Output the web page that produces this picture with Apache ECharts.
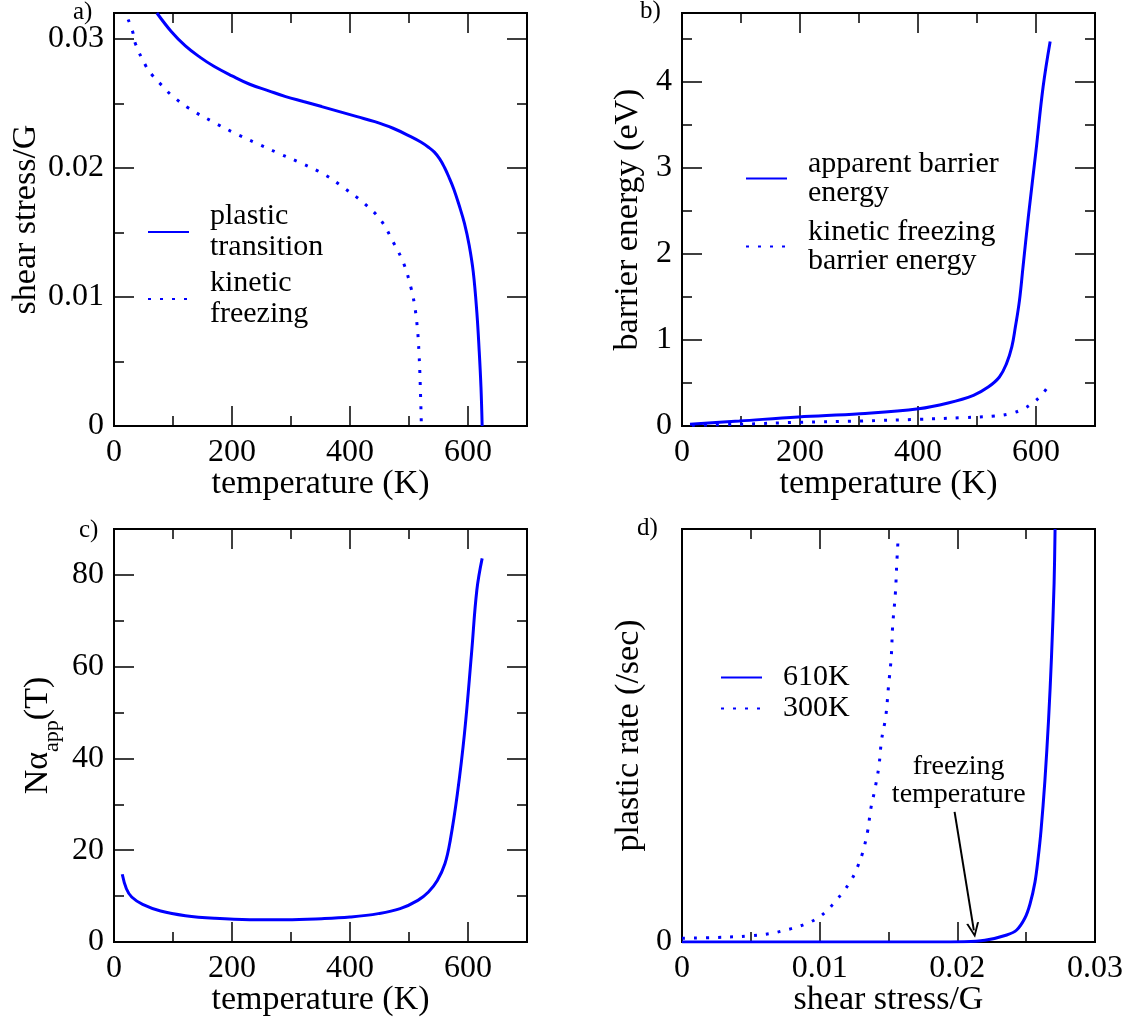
<!DOCTYPE html>
<html><head><meta charset="utf-8">
<script src="https://cdn.jsdelivr.net/npm/echarts@6/dist/echarts.min.js"></script>
<style>html,body{margin:0;padding:0;background:#fff}#c{width:1133px;height:1022px}</style>
</head><body><div id="c"></div>
<script>
// ---------- data ----------
// a) shear stress/G vs temperature
const aPlasticT = [72.7, 97, 121, 145.5, 170, 200, 230, 261, 291, 321, 352, 382, 412, 442, 473, 503, 520, 533, 543, 552, 560, 568, 576, 585, 594, 602, 609, 615, 619, 622, 624];
const aPlasticS = [0.0320, 0.03057, 0.02945, 0.02858, 0.02785, 0.02713, 0.02648, 0.02599, 0.02552, 0.02514, 0.02475, 0.02436, 0.02397, 0.02358, 0.02307, 0.02242, 0.02200, 0.02160, 0.02122, 0.02070, 0.02005, 0.01925, 0.01835, 0.0171, 0.0157, 0.0140, 0.0119, 0.0088, 0.0058, 0.0030, 0];
const aFreezeT = [24, 31.5, 36, 54.5, 66.7, 82, 97, 127, 167, 203, 242, 279, 318, 358, 391, 424, 452, 473, 491, 503, 509, 514, 517, 519, 521];
const aFreezeS = [0.0315, 0.03057, 0.02966, 0.02785, 0.02708, 0.02635, 0.02565, 0.02462, 0.02358, 0.02273, 0.0219, 0.02113, 0.02035, 0.01945, 0.01841, 0.01725, 0.01596, 0.01427, 0.01259, 0.01078, 0.00949, 0.00768, 0.00561, 0.00328, 0];
// b) barrier energy (eV) vs temperature
const bApparentT = [13.6, 97, 197, 302, 401, 451, 494, 519, 538, 550, 559, 565, 572, 578, 587, 600, 612, 624];
const bApparentE = [0.02, 0.058, 0.105, 0.143, 0.2, 0.267, 0.357, 0.453, 0.57, 0.725, 0.92, 1.15, 1.46, 1.85, 2.43, 3.2, 3.94, 4.47];
const bFreezeT = [17, 97, 197, 302, 401, 476, 531, 556, 576, 593, 609, 622];
const bFreezeE = [0.008, 0.02, 0.043, 0.058, 0.078, 0.097, 0.116, 0.143, 0.19, 0.26, 0.357, 0.473];
// c) N alpha_app(T) vs temperature
const cT = [14, 21, 30, 48.5, 79, 121, 170, 230, 291, 352, 400, 448, 485, 515, 533, 548, 561, 570, 582, 594, 606, 615, 624];
const cN = [14.75, 11.6, 9.8, 8.2, 6.76, 5.74, 5.16, 4.87, 4.87, 5.09, 5.45, 6.18, 7.27, 9.08, 10.9, 13.4, 17.1, 22.2, 32.3, 45.4, 62.9, 76.7, 83.6];
// d) plastic rate (relative units, top of frame = 1) vs shear stress/G
const d610S = [0, 0.01, 0.018, 0.0205, 0.0220, 0.02359, 0.02431, 0.02491, 0.02528, 0.02564, 0.02586, 0.02608, 0.02636, 0.02663, 0.02684, 0.02703, 0.0271];
const d610R = [0, 0, 0, 0.0005, 0.004, 0.017, 0.029, 0.058, 0.092, 0.145, 0.2, 0.27, 0.39, 0.54, 0.69, 0.87, 1.0];
const d300S = [0, 0.0025, 0.005, 0.0065, 0.0073, 0.0081, 0.009, 0.0098, 0.0105, 0.0111, 0.0117, 0.0123, 0.0127, 0.0131, 0.0135, 0.0137, 0.014, 0.0143, 0.0145, 0.0148, 0.015, 0.0152, 0.0153, 0.0155, 0.0156, 0.0157];
const d300R = [0.009, 0.011, 0.015, 0.021, 0.027, 0.034, 0.044, 0.057, 0.075, 0.097, 0.121, 0.15, 0.178, 0.214, 0.271, 0.32, 0.368, 0.425, 0.49, 0.546, 0.619, 0.69, 0.764, 0.845, 0.916, 0.977];
// annotation in panel d (data coordinates)
const arrowFrom = [0.0198, 0.315];
const arrowTo = [0.0212, 0.028];
const noteAt = [0.0201, 0.39];

// ---------- helpers ----------
const FONT = '"Liberation Serif","Times New Roman",serif';
const BLUE = '#0000ff';
const zip = (a, b) => a.map((v, i) => [v, b[i]]);
const xAxes = [], yAxes = [];

function addAxes(list, grid, isX, o) {
  const pos = isX ? ['bottom', 'top'] : ['left', 'right'];
  const base = {
    gridIndex: grid, type: 'value', min: o.min, max: o.max,
    splitLine: { show: false }, axisLine: { show: false, onZero: false }, nameMoveOverlap: false
  };
  const tick = (len) => ({ show: true, inside: true, length: len, lineStyle: { color: '#000', width: 1.5 } });
  const main = list.length;
  list.push(Object.assign({}, base, {
    position: pos[0], interval: o.major,
    axisTick: o.ticks === false ? { show: false } : tick(20),
    axisLabel: {
      show: true, color: '#000', fontSize: 32, fontFamily: FONT,
      margin: isX ? 11 : 10, showMaxLabel: o.showMax, showMinLabel: true,
      formatter: o.fmt
    },
    name: o.name, nameLocation: 'middle', nameGap: o.nameGap,
    nameTextStyle: Object.assign({ color: '#000', fontSize: 34, fontFamily: FONT }, o.nameStyle || {})
  }));
  if (o.ticks !== false) {
    const hidden = { axisLabel: { show: false } };
    list.push(Object.assign({}, base, hidden, { position: pos[0], interval: o.minor, axisTick: tick(10) }));
    list.push(Object.assign({}, base, hidden, { position: pos[1], interval: o.major, axisTick: tick(20) }));
    list.push(Object.assign({}, base, hidden, { position: pos[1], interval: o.minor, axisTick: tick(10) }));
  }
  return main;
}

const grids = [
  { left: 114, top: 13, width: 413, height: 413 },
  { left: 682, top: 13, width: 413, height: 413 },
  { left: 114, top: 529, width: 413, height: 413 },
  { left: 682, top: 529, width: 413, height: 413 }
].map(g => Object.assign(g, { show: true, borderColor: '#000', borderWidth: 2, backgroundColor: 'transparent', containLabel: false, outerBoundsMode: 'none' }));

const tempAxis = (g) => addAxes(xAxes, g, true, { min: 0, max: 700, major: 200, minor: 100, name: 'temperature (K)', nameGap: 41, showMax: false });
const xA = tempAxis(0), xB = tempAxis(1), xC = tempAxis(2);
const xD = addAxes(xAxes, 3, true, { min: 0, max: 0.03, major: 0.01, minor: 0.005, name: 'shear stress/G', nameGap: 41, showMax: true });

const yA = addAxes(yAxes, 0, false, { min: 0, max: 0.032, major: 0.01, minor: 0.005, name: 'shear stress/G', nameGap: 71, showMax: false });
const yB = addAxes(yAxes, 1, false, { min: 0, max: 4.8, major: 1, minor: 0.5, name: 'barrier energy (eV)', nameGap: 37, showMax: false });
const yC = addAxes(yAxes, 2, false, {
  min: 0, max: 90, major: 20, minor: 10, name: '{n|Nα}{s|app}{n|(T)}', nameGap: 59, showMax: false,
  nameStyle: { rich: {
    n: { fontSize: 34, lineHeight: 34, verticalAlign: 'top', fontFamily: FONT, color: '#000' },
    s: { fontSize: 22, lineHeight: 22, verticalAlign: 'top', padding: [20, 0, 0, 0], fontFamily: FONT, color: '#000' }
  } }
});
const yD = addAxes(yAxes, 3, false, { min: 0, max: 1, major: 1, ticks: false, name: 'plastic rate (/sec)', nameGap: 36, showMax: false, fmt: v => (v === 0 ? '0' : '') });

const solid = { color: BLUE, width: 3, type: 'solid' };
const dotted = { color: BLUE, width: 3, type: [3, 9], cap: 'butt' };
const line = (name, xi, yi, data, ls, extra) => Object.assign({
  type: 'line', name, xAxisIndex: xi, yAxisIndex: yi, data,
  symbol: 'none', showSymbol: false, smooth: 0.4,
  lineStyle: ls, itemStyle: { color: BLUE }, emphasis: { disabled: true }, silent: true
}, extra || {});

const ARROW = 'path://M5,0 L10,12 L8.4,12 L5,3.8 L1.6,12 L0,12 Z';

const series = [
  line('plastic transition', xA, yA, zip(aPlasticT, aPlasticS), solid),
  line('kinetic freezing', xA, yA, zip(aFreezeT, aFreezeS), dotted),
  line('apparent barrier energy', xB, yB, zip(bApparentT, bApparentE), solid),
  line('kinetic freezing barrier energy', xB, yB, zip(bFreezeT, bFreezeE), dotted),
  line('N alpha app', xC, yC, zip(cT, cN), solid),
  line('610K', xD, yD, zip(d610S, d610R), solid, {
    smooth: 0.3,
    markLine: {
      silent: true, symbol: ['none', ARROW], symbolSize: [13, 15],
      lineStyle: { color: '#000', width: 2, type: 'solid' }, label: { show: false },
      emphasis: { disabled: true },
      data: [[{ coord: arrowFrom }, { coord: arrowTo }]]
    },
    markPoint: {
      silent: true, symbol: 'circle', symbolSize: 1, itemStyle: { color: 'rgba(0,0,0,0)' },
      label: { show: true, position: 'inside', formatter: 'freezing\ntemperature', color: '#000', fontSize: 28, lineHeight: 28, fontFamily: FONT },
      data: [{ coord: noteAt }]
    }
  }),
  line('300K', xD, yD, zip(d300S, d300R), dotted)
];

const legendNames = {
  'plastic transition': 'plastic\ntransition',
  'kinetic freezing': 'kinetic\nfreezing',
  'apparent barrier energy': 'apparent barrier\nenergy',
  'kinetic freezing barrier energy': 'kinetic freezing\nbarrier energy',
  '610K': '610K', '300K': '300K'
};
const legend = (names, left, top, gap, lh) => ({
  data: names, orient: 'vertical', left, top, padding: 0, itemGap: gap,
  itemWidth: 41, itemHeight: 14, selectedMode: false,
  itemStyle: { opacity: 0, borderWidth: 0 },
  formatter: n => legendNames[n],
  textStyle: { fontFamily: FONT, fontSize: 30, lineHeight: lh, color: '#000', padding: [0, 0, 0, 16] }
});

const panelLabel = (t, x, y) => ({ type: 'text', x, y, style: { text: t, fontSize: 25, fontFamily: FONT, fill: '#000', verticalAlign: 'middle', align: 'left' } });

const option = {
  animation: false,
  backgroundColor: '#fff',
  textStyle: { fontFamily: FONT },
  grid: grids,
  xAxis: xAxes,
  yAxis: yAxes,
  legend: [
    legend(['plastic transition', 'kinetic freezing'], 147, 201, 5, 31),
    legend(['apparent barrier energy', 'kinetic freezing barrier energy'], 745, 149, 9, 29),
    legend(['610K', '300K'], 720, 662, 0, 31)
  ],
  graphic: [
    panelLabel('a)', 73, 12),
    panelLabel('b)', 640, 11),
    panelLabel('c)', 79, 530),
    panelLabel('d)', 637, 528)
  ],
  series
};

const chart = echarts.init(document.getElementById('c'), null, { renderer: 'canvas' });
chart.setOption(option);
</script>
</body></html>
